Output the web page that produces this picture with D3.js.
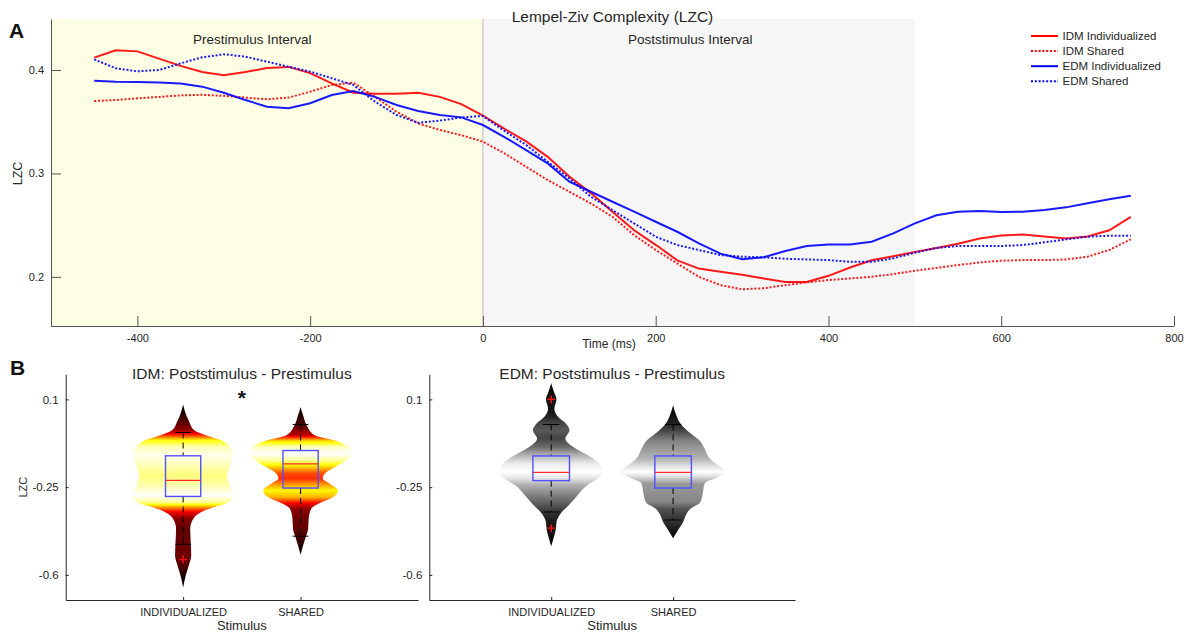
<!DOCTYPE html>
<html>
<head>
<meta charset="utf-8">
<script src="https://cdn.jsdelivr.net/npm/d3@7"></script>
<style>
  html, body { margin: 0; padding: 0; background: #fff; }
  svg text { font-family: "Liberation Sans", Arial, Helvetica, sans-serif; fill: #262626; }
</style>
</head>
<body>
<svg id="figure" width="1188" height="632"></svg>
<script>
// ---------- Panel A: Lempel-Ziv complexity time courses ----------
const timeMs = [-450, -425, -400, -375, -350, -325, -300, -275, -250, -225, -200, -175, -150, -125, -100, -75, -50, -25,
  0, 25, 50, 75, 100, 125, 150, 175, 200, 225, 250, 275, 300, 325, 350, 375, 400, 425, 450, 475, 500,
  525, 550, 575, 600, 625, 650, 675, 700, 725, 750];

const idmIndividualized = [0.412, 0.419, 0.418, 0.411, 0.404, 0.398, 0.395, 0.398, 0.402, 0.403, 0.397, 0.387, 0.378,
  0.377, 0.377, 0.378, 0.374, 0.367, 0.356, 0.343, 0.331, 0.316, 0.297, 0.281, 0.263, 0.245, 0.231, 0.216, 0.208,
  0.205, 0.202, 0.1985, 0.195, 0.195, 0.201, 0.209, 0.216, 0.220, 0.224, 0.228, 0.232, 0.237, 0.240, 0.241, 0.239,
  0.237, 0.239, 0.245, 0.258];

const idmShared = [0.370, 0.371, 0.3726, 0.374, 0.3755, 0.376, 0.375, 0.3733, 0.3717, 0.3733, 0.379, 0.3855, 0.3878,
  0.374, 0.3597, 0.3484, 0.342, 0.337, 0.3307, 0.3194, 0.3065, 0.2936, 0.2823, 0.271, 0.2581, 0.2404, 0.226, 0.213,
  0.200, 0.192, 0.188, 0.189, 0.192, 0.1947, 0.1969, 0.1985, 0.2001, 0.2027, 0.2059, 0.2086, 0.2114, 0.214, 0.2156,
  0.2162, 0.2162, 0.2169, 0.2195, 0.226, 0.2363];

const edmIndividualized = [0.3897, 0.3887, 0.3884, 0.388, 0.387, 0.3839, 0.378, 0.371, 0.3645, 0.363, 0.3678, 0.3758,
  0.3797, 0.374, 0.3661, 0.3603, 0.3565, 0.3542, 0.3468, 0.3352, 0.3226, 0.3097, 0.292, 0.2823, 0.2726, 0.263, 0.2533,
  0.2436, 0.2324, 0.2225, 0.217, 0.2189, 0.225, 0.2298, 0.2314, 0.2314, 0.234, 0.242, 0.2517, 0.2595, 0.263, 0.2636,
  0.2627, 0.263, 0.2646, 0.2672, 0.2711, 0.275, 0.2785];

const edmShared = [0.4103, 0.4016, 0.3987, 0.400, 0.4064, 0.4123, 0.4152, 0.4129, 0.408, 0.4032, 0.3984, 0.392, 0.3855,
  0.3694, 0.3565, 0.349, 0.351, 0.3542, 0.3555, 0.341, 0.3275, 0.3113, 0.2952, 0.2775, 0.2646, 0.2517, 0.2388, 0.2308,
  0.2259, 0.2211, 0.2195, 0.2189, 0.2175, 0.2169, 0.2162, 0.2146, 0.2146, 0.2179, 0.2234, 0.228, 0.2298, 0.2298,
  0.2298, 0.2308, 0.2334, 0.2363, 0.2388, 0.2398, 0.2398];

const seriesLabels = ["IDM Individualized", "IDM Shared", "EDM Individualized", "EDM Shared"];
const timeTicks = [-400, -200, 0, 200, 400, 600, 800];
const lzcTicksA = [0.2, 0.3, 0.4];
const prestimWindow = [-500, 0];
const poststimWindow = [0, 500];

// ---------- Panel B: post minus pre LZC distributions ----------
const stimulusCategories = ["INDIVIDUALIZED", "SHARED"];
const lzcTicksB = [0.1, -0.25, -0.6];

// violin profiles: LZC grid and relative density (1 = widest)
const idmIndLzc = [0.080, 0.050, 0.011, -0.023, -0.043, -0.063, -0.090, -0.123, -0.163, -0.203, -0.243, -0.283, -0.310,
  -0.330, -0.350, -0.376, -0.416, -0.470, -0.523, -0.563, -0.603, -0.650];
const idmIndDensity = [0, 0.04, 0.12, 0.22, 0.45, 0.75, 0.93, 0.98, 0.93, 0.87, 0.92, 1.0, 0.9, 0.6, 0.35, 0.2, 0.14,
  0.15, 0.16, 0.11, 0.05, 0];

const idmShLzc = [0.070, 0.037, -0.003, -0.043, -0.063, -0.090, -0.116, -0.143, -0.170, -0.196, -0.216, -0.236, -0.263,
  -0.290, -0.316, -0.336, -0.376, -0.416, -0.450, -0.483, -0.520];
const idmShDensity = [0, 0.05, 0.12, 0.28, 0.66, 0.94, 1.0, 0.9, 0.68, 0.48, 0.44, 0.58, 0.74, 0.64, 0.35, 0.21, 0.16,
  0.15, 0.1, 0.05, 0];

const edmIndLzc = [0.164, 0.131, 0.100, 0.064, 0.031, 0.004, -0.023, -0.056, -0.090, -0.123, -0.156, -0.190, -0.216,
  -0.243, -0.283, -0.323, -0.350, -0.390, -0.416, -0.450, -0.486];
const edmIndDensity = [0, 0.05, 0.1, 0.06, 0.13, 0.28, 0.35, 0.27, 0.42, 0.7, 0.92, 1.0, 0.89, 0.68, 0.5, 0.33, 0.2,
  0.1, 0.09, 0.05, 0];

const edmShLzc = [0.077, 0.037, 0.004, -0.030, -0.063, -0.096, -0.136, -0.170, -0.190, -0.210, -0.236, -0.270, -0.310,
  -0.336, -0.363, -0.390, -0.416, -0.454];
const edmShDensity = [0, 0.06, 0.14, 0.3, 0.5, 0.6, 0.7, 0.9, 1.0, 0.85, 0.6, 0.57, 0.52, 0.33, 0.24, 0.19, 0.11, 0];

// box-plot summaries, order: IDM individualized, IDM shared, EDM individualized, EDM shared
const boxUpperQuartile = [-0.125, -0.104, -0.1255, -0.1255];
const boxMedian = [-0.223, -0.1575, -0.191, -0.191];
const boxLowerQuartile = [-0.287, -0.2535, -0.224, -0.2535];
const whiskerTop = [-0.032, 0.0, 0.0, 0.0];
const whiskerBottom = [-0.4775, -0.4455, -0.349, -0.381];
const outlierValues = [[-0.539], [], [0.1, -0.4135], []];

// ---------- helpers ----------
const svg = d3.select("#figure");
const defs = svg.append("defs");

function hotColor(t) {
  t = Math.max(0, Math.min(1, t));
  const r = Math.min(1, t / 0.375);
  const g = Math.max(0, Math.min(1, (t - 0.375) / 0.375));
  const b = Math.max(0, Math.min(1, (t - 0.75) / 0.25));
  return d3.rgb(r * 255, g * 255, b * 255).formatHex();
}
function grayColor(t) {
  const v = Math.round(Math.max(0, Math.min(1, t)) * 255);
  return d3.rgb(v, v, v).formatHex();
}

// ================= Panel A =================
const xA = d3.scaleLinear().domain([-500, 800]).range([51, 1174]);
const yA = d3.scaleLinear().domain([0.1525, 0.4493]).range([326, 19]);
const gA = svg.append("g");

gA.append("rect")
  .attr("x", xA(prestimWindow[0])).attr("y", yA.range()[1])
  .attr("width", xA(prestimWindow[1]) - xA(prestimWindow[0]))
  .attr("height", yA.range()[0] - yA.range()[1])
  .attr("fill", "#fefee4");
gA.append("rect")
  .attr("x", xA(poststimWindow[0])).attr("y", yA.range()[1])
  .attr("width", xA(poststimWindow[1]) - xA(poststimWindow[0]))
  .attr("height", yA.range()[0] - yA.range()[1])
  .attr("fill", "#f6f6f6");
gA.append("line")
  .attr("x1", xA(0)).attr("x2", xA(0))
  .attr("y1", yA.range()[1]).attr("y2", yA.range()[0])
  .attr("stroke", "#d2d2d2").attr("stroke-width", 1.6);

gA.append("text").attr("x", xA(-267)).attr("y", 43.5).attr("text-anchor", "middle")
  .attr("font-size", 13.5).text("Prestimulus Interval");
gA.append("text").attr("x", xA(240)).attr("y", 43.5).attr("text-anchor", "middle")
  .attr("font-size", 13.5).text("Poststimulus Interval");

const seriesData = [idmIndividualized, idmShared, edmIndividualized, edmShared];
const seriesColor = ["#ff0000", "#ff0000", "#0000ff", "#0000ff"];
const seriesDash = [null, "2,1.8", null, "2,1.8"];

const lineA = d3.line().x((d, i) => xA(timeMs[i])).y(d => yA(d));
seriesData.forEach((vals, k) => {
  gA.append("path")
    .datum(vals)
    .attr("d", lineA)
    .attr("fill", "none")
    .attr("stroke", seriesColor[k])
    .attr("stroke-width", 2)
    .attr("stroke-opacity", 0.9)
    .attr("stroke-dasharray", seriesDash[k]);
});

// axes
const axisColorA = "#555";
const xAxisA = gA.append("g").attr("transform", `translate(0,${yA.range()[0]})`)
  .call(d3.axisBottom(xA).tickValues(timeTicks).tickFormat(d => String(d)).tickSizeInner(-10).tickSizeOuter(0).tickPadding(8));
const yAxisA = gA.append("g").attr("transform", `translate(${xA.range()[0]},0)`)
  .call(d3.axisLeft(yA).tickValues(lzcTicksA).tickFormat(d => String(d)).tickSizeInner(-10).tickSizeOuter(0).tickPadding(7));
[xAxisA, yAxisA].forEach(ax => {
  ax.select(".domain").attr("stroke", axisColorA);
  ax.selectAll(".tick line").attr("stroke", axisColorA);
  ax.selectAll(".tick text").attr("font-size", 11).attr("fill", "#333")
    .style("font-family", '"Liberation Sans", Arial, sans-serif');
});

gA.append("text").attr("x", (xA.range()[0] + xA.range()[1]) / 2).attr("y", 21.5)
  .attr("text-anchor", "middle").attr("font-size", 15.5).text("Lempel-Ziv Complexity (LZC)");
gA.append("text").attr("x", 609).attr("y", 347.5).attr("text-anchor", "middle")
  .attr("font-size", 12).text("Time (ms)");
gA.append("text").attr("transform", `translate(22,${yA(0.3)}) rotate(-90)`)
  .attr("text-anchor", "middle").attr("font-size", 12.5).text("LZC");

// legend
const legend = gA.append("g").attr("transform", "translate(1031,36)");
seriesLabels.forEach((lab, k) => {
  const row = legend.append("g").attr("transform", `translate(0,${k * 15.1})`);
  row.append("line").attr("x1", 0).attr("x2", 27).attr("y1", 0).attr("y2", 0)
    .attr("stroke", seriesColor[k]).attr("stroke-width", 2).attr("stroke-dasharray", seriesDash[k]);
  row.append("text").attr("x", 31.5).attr("y", 4).attr("font-size", 11.5).text(lab);
});

// panel letter
svg.append("text").attr("x", 9).attr("y", 37.5).attr("font-size", 21).attr("font-weight", "bold")
  .style("fill", "#111").text("A");

// ================= Panel B =================
const yB = d3.scaleLinear().domain([-0.7, 0.2]).range([600, 374.3]);
const maxHalfWidth = 0.43;
const boxHalfWidth = 0.15;
const capHalfWidth = 0.067;

function drawViolin(g, xS, pos, lzc, dens, cmap, gid) {
  const pts = lzc.map((v, i) => ({ v: v, d: dens[i] }));
  const y1 = yB(lzc[0]), y2 = yB(lzc[lzc.length - 1]);
  const grad = defs.append("linearGradient").attr("id", gid)
    .attr("gradientUnits", "userSpaceOnUse")
    .attr("x1", 0).attr("x2", 0).attr("y1", y1).attr("y2", y2);
  for (let i = 0; i < pts.length - 1; i++) {
    const a = pts[i], b = pts[i + 1];
    for (let s = 0; s < 6; s++) {
      const f = s / 6;
      const v = a.v + (b.v - a.v) * f;
      const d = a.d + (b.d - a.d) * f;
      grad.append("stop").attr("offset", (yB(v) - y1) / (y2 - y1)).attr("stop-color", cmap(d));
    }
  }
  const last = pts[pts.length - 1];
  grad.append("stop").attr("offset", 1).attr("stop-color", cmap(last.d));

  const area = d3.area()
    .y(d => yB(d.v))
    .x0(d => xS(pos - d.d * maxHalfWidth))
    .x1(d => xS(pos + d.d * maxHalfWidth))
    .curve(d3.curveMonotoneY);
  g.append("path").datum(pts).attr("d", area).attr("fill", `url(#${gid})`);
}

function drawBox(g, xS, pos, k) {
  const dash = "6,4";
  // whiskers
  g.append("line").attr("x1", xS(pos)).attr("x2", xS(pos))
    .attr("y1", yB(whiskerTop[k])).attr("y2", yB(boxUpperQuartile[k]))
    .attr("stroke", "#000").attr("stroke-width", 1).attr("stroke-dasharray", dash);
  g.append("line").attr("x1", xS(pos)).attr("x2", xS(pos))
    .attr("y1", yB(boxLowerQuartile[k])).attr("y2", yB(whiskerBottom[k]))
    .attr("stroke", "#000").attr("stroke-width", 1).attr("stroke-dasharray", dash);
  [whiskerTop[k], whiskerBottom[k]].forEach(w => {
    g.append("line").attr("x1", xS(pos - capHalfWidth)).attr("x2", xS(pos + capHalfWidth))
      .attr("y1", yB(w)).attr("y2", yB(w)).attr("stroke", "#000").attr("stroke-width", 1);
  });
  // box
  g.append("rect")
    .attr("x", xS(pos - boxHalfWidth)).attr("y", yB(boxUpperQuartile[k]))
    .attr("width", xS(pos + boxHalfWidth) - xS(pos - boxHalfWidth))
    .attr("height", yB(boxLowerQuartile[k]) - yB(boxUpperQuartile[k]))
    .attr("fill", "none").attr("stroke", "#5050ff").attr("stroke-width", 1.4);
  g.append("line").attr("x1", xS(pos - boxHalfWidth)).attr("x2", xS(pos + boxHalfWidth))
    .attr("y1", yB(boxMedian[k])).attr("y2", yB(boxMedian[k]))
    .attr("stroke", "#ff2a2a").attr("stroke-width", 1.2);
  // outliers
  outlierValues[k].forEach(o => {
    const cx = xS(pos), cy = yB(o);
    g.append("path").attr("d", `M${cx - 4},${cy}H${cx + 4}M${cx},${cy - 4}V${cy + 4}`)
      .attr("stroke", "#ff1010").attr("stroke-width", 1.4).attr("fill", "none");
  });
}

function drawSubplot(x0, x1, title, cmap, violins, boxIdx, withYLabel, idPrefix) {
  const xS = d3.scaleLinear().domain([0, 3]).range([x0, x1]);
  const g = svg.append("g");
  violins.forEach((v, i) => drawViolin(g, xS, i + 1, v[0], v[1], cmap, `${idPrefix}${i}`));
  boxIdx.forEach((k, i) => drawBox(g, xS, i + 1, k));

  const xAx = g.append("g").attr("transform", `translate(0,${yB.range()[0]})`)
    .call(d3.axisBottom(xS).tickValues([1, 2]).tickFormat((d, i) => stimulusCategories[i])
      .tickSizeInner(-3).tickSizeOuter(0).tickPadding(8));
  const yAx = g.append("g").attr("transform", `translate(${x0},0)`)
    .call(d3.axisLeft(yB).tickValues(lzcTicksB).tickFormat(d => String(d))
      .tickSizeInner(-3).tickSizeOuter(0).tickPadding(7));
  [xAx, yAx].forEach(ax => {
    ax.select(".domain").attr("stroke", "#262626");
    ax.selectAll(".tick line").attr("stroke", "#262626");
    ax.selectAll(".tick text").attr("fill", "#333")
      .style("font-family", '"Liberation Sans", Arial, sans-serif');
  });
  xAx.selectAll(".tick text").attr("font-size", 11);
  yAx.selectAll(".tick text").attr("font-size", 11.5);

  g.append("text").attr("x", (x0 + x1) / 2).attr("y", 378.5).attr("text-anchor", "middle")
    .attr("font-size", 15.5).text(title);
  g.append("text").attr("x", (x0 + x1) / 2).attr("y", 630).attr("text-anchor", "middle")
    .attr("font-size", 13).text("Stimulus");
  if (withYLabel) {
    g.append("text").attr("transform", `translate(27,${yB(-0.25)}) rotate(-90)`)
      .attr("text-anchor", "middle").attr("font-size", 11).text("LZC");
  }
  return { g, xS };
}

const idmPanel = drawSubplot(65.7, 418, "IDM: Poststimulus - Prestimulus", hotColor,
  [[idmIndLzc, idmIndDensity], [idmShLzc, idmShDensity]], [0, 1], true, "idmViolin");
drawSubplot(429.3, 795, "EDM: Poststimulus - Prestimulus", grayColor,
  [[edmIndLzc, edmIndDensity], [edmShLzc, edmShDensity]], [2, 3], false, "edmViolin");

// significance marker between the IDM conditions
idmPanel.g.append("text").attr("x", idmPanel.xS(1.5)).attr("y", 405).attr("text-anchor", "middle")
  .attr("font-size", 21).attr("font-weight", "bold").style("fill", "#111").text("*");

svg.append("text").attr("x", 10).attr("y", 375).attr("font-size", 21).attr("font-weight", "bold")
  .style("fill", "#111").text("B");
</script>
</body>
</html>
